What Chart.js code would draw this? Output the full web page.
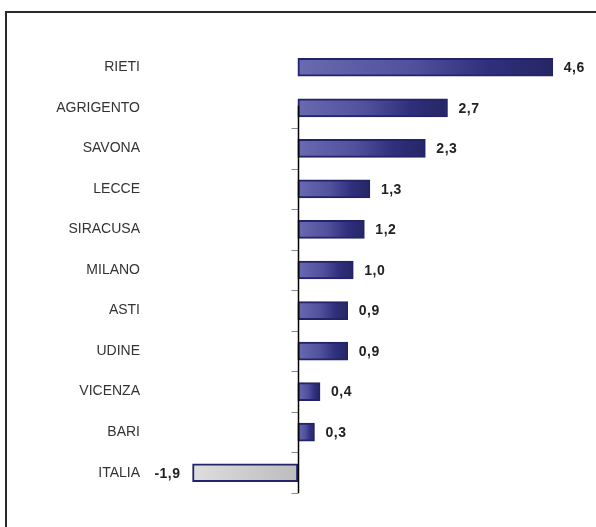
<!DOCTYPE html>
<html>
<head>
<meta charset="utf-8">
<script src="https://cdn.jsdelivr.net/npm/chart.js@4"></script>
<style>
  html, body { margin: 0; padding: 0; background: #fff; overflow: hidden; }
  #wrap { position: relative; width: 596px; height: 527px; }
  #frame { position: absolute; left: 5px; top: 11px; width: 800px; height: 800px; border: 2px solid #2a2a2a; box-sizing: border-box; }
  canvas { position: absolute; left: 0; top: 0; }
</style>
</head>
<body>
<div id="wrap">
  <div id="frame"></div>
  <canvas id="c" width="596" height="527"></canvas>
</div>
<script>
const labels = ["RIETI","AGRIGENTO","SAVONA","LECCE","SIRACUSA","MILANO","ASTI","UDINE","VICENZA","BARI","ITALIA"];
const values = [4.6, 2.7, 2.3, 1.3, 1.2, 1.0, 0.9, 0.9, 0.4, 0.3, -1.9];

const fmt = v => v.toFixed(1).replace(".", ",");

// gradient for each bar, from zero line to bar end
function barFill(ctx){
  const chart = ctx.chart;
  const x = chart.scales.x;
  if (!x || !chart.chartArea) return "#3a3a88";
  const v = ctx.raw;
  const x0 = x.getPixelForValue(0), x1 = x.getPixelForValue(v);
  if (v < 0) {
    const g = chart.ctx.createLinearGradient(x1, 0, x0, 0);
    g.addColorStop(0, "#dedede");
    g.addColorStop(1, "#bcbcbc");
    return g;
  }
  const g = chart.ctx.createLinearGradient(x0, 0, x1, 0);
  g.addColorStop(0, "#6a6ab2");
  g.addColorStop(0.45, "#50509c");
  g.addColorStop(0.75, "#2f2f7e");
  g.addColorStop(1, "#262664");
  return g;
}

const axisPlugin = {
  id: "zeroAxis",
  afterDatasetsDraw(chart){
    const {ctx, chartArea} = chart;
    const x = chart.scales.x, y = chart.scales.y;
    const x0 = Math.round(x.getPixelForValue(0)) + 0.5;
    ctx.save();
    ctx.strokeStyle = "#8a8a8a";
    ctx.lineWidth = 1;
    for (let i = 1; i < labels.length; i++) {
      const yy = Math.round(y.getPixelForValue(i + 0.5)) + 0.5;
      ctx.beginPath(); ctx.moveTo(x0 - 7, yy); ctx.lineTo(x0, yy); ctx.stroke();
    }
    ctx.strokeStyle = "#000";
    ctx.lineWidth = 1.5;
    ctx.beginPath();
    ctx.moveTo(x0, y.getPixelForValue(1) - 2);
    ctx.lineTo(x0, chartArea.bottom);
    ctx.stroke();
    ctx.restore();
  }
};

const valuePlugin = {
  id: "values",
  afterDatasetsDraw(chart){
    const {ctx} = chart;
    const meta = chart.getDatasetMeta(0);
    ctx.save();
    ctx.font = "bold 14px 'Liberation Sans', Arial, sans-serif";
    ctx.letterSpacing = "0.5px";
    ctx.fillStyle = "#222";
    ctx.textBaseline = "middle";
    meta.data.forEach((bar, i) => {
      const v = values[i];
      if (v < 0) { ctx.textAlign = "right"; ctx.fillText(fmt(v), bar.x - 12, bar.y + 1); }
      else { ctx.textAlign = "left"; ctx.fillText(fmt(v), bar.x + 11, bar.y + 1); }
    });
    ctx.restore();
  }
};

new Chart(document.getElementById("c"), {
  type: "bar",
  data: {
    labels,
    datasets: [{
      data: values,
      backgroundColor: barFill,
      borderColor: "#23236a",
      borderWidth: 2,
      borderSkipped: false,
      barThickness: 18
    }]
  },
  options: {
    indexAxis: "y",
    responsive: false,
    animation: false,
    layout: { padding: { top: 47, bottom: 34, right: 21, left: 0 } },
    plugins: { legend: { display: false }, tooltip: { enabled: false } },
    scales: {
      x: { display: false, min: -2, max: 5 },
      y: {
        grid: { display: false, drawTicks: false },
        border: { display: false },
        afterFit(s){ s.width = 187; s.paddingTop = 0; s.paddingBottom = 0; },
        ticks: {
          padding: 47,
          color: "#333",
          font: { family: "'Liberation Sans', Arial, sans-serif", size: 14 }
        }
      }
    }
  },
  plugins: [axisPlugin, valuePlugin]
});
</script>
</body>
</html>
